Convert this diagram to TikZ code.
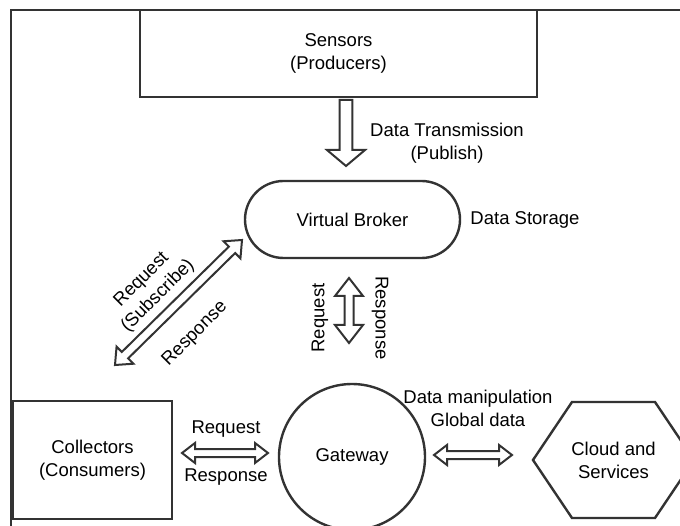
\documentclass[tikz,border=0pt]{standalone}
\usepackage{fontspec}
\setmainfont{Liberation Sans}
\usetikzlibrary{calc,shapes.misc}
\definecolor{edge}{HTML}{333333}
\newcommand{\HollowDouble}[5]{%
  \draw[arrowline] (#1) -- ($(#1)!#5!(#2)!#4!90:(#2)$) -- ($(#1)!#5!(#2)!#3!90:(#2)$)
    -- ($(#2)!#5!(#1)!#3!-90:(#1)$) -- ($(#2)!#5!(#1)!#4!-90:(#1)$) -- (#2)
    -- ($(#2)!#5!(#1)!#4!90:(#1)$) -- ($(#2)!#5!(#1)!#3!90:(#1)$)
    -- ($(#1)!#5!(#2)!#3!-90:(#2)$) -- ($(#1)!#5!(#2)!#4!-90:(#2)$) -- cycle;}
\newcommand{\HollowSingle}[5]{%
  \draw[arrowline] ($(#1)!#3!90:(#2)$) -- ($(#2)!#5!(#1)!#3!-90:(#1)$)
    -- ($(#2)!#5!(#1)!#4!-90:(#1)$) -- (#2) -- ($(#2)!#5!(#1)!#4!90:(#1)$)
    -- ($(#2)!#5!(#1)!#3!90:(#1)$) -- ($(#1)!#3!-90:(#2)$) -- cycle;}
\begin{document}
\begin{tikzpicture}[x=1pt,y=-1pt,
  every node/.style={font=\fontsize{18.5}{23}\selectfont, align=center, text=black},
  shapeline/.style={draw=edge, line width=2.4pt},
  arrowline/.style={draw=edge, line width=2pt, line join=miter},
  boxnode/.style={shapeline, rectangle, inner sep=0pt},
  lbl/.style={inner sep=1pt}]
\useasboundingbox (0,0) rectangle (680,526);
\clip (0,0) rectangle (680,526);
% outer frame
\draw[draw=edge, line width=2pt] (11,10) rectangle (720,560);
% nodes
\node[boxnode, minimum width=397pt, minimum height=87pt] (sensors) at (338.5,53.5) {Sensors\\(Producers)};
\node[shapeline, rounded rectangle, minimum width=215pt, minimum height=77pt, inner sep=0pt] (broker) at (352.5,219.5) {Virtual Broker};
\node[boxnode, minimum width=159pt, minimum height=118pt] (collectors) at (92.5,460) {Collectors\\(Consumers)};
\node[shapeline, circle, minimum size=146pt, inner sep=0pt] (gateway) at (352,457) {Gateway};
\node[inner sep=0pt] (cloud) at (613.5,460) {Cloud and\\Services};
\draw[shapeline, line join=miter] ($(cloud)+(-80.5,0)$) -- ($(cloud)+(-41.5,-58)$) -- ($(cloud)+(41.5,-58)$)
  -- ($(cloud)+(80.5,0)$) -- ($(cloud)+(41.5,58)$) -- ($(cloud)+(-41.5,58)$) -- cycle;
% connector end points
\coordinate (p1) at (346,100);
\coordinate (p2) at (346,166);
\coordinate (d1) at (242,240);
\coordinate (d2) at (115,365);
\coordinate (v1) at (349,278);
\coordinate (v2) at (349,343);
\coordinate (h1) at (182,453);
\coordinate (h2) at (268,453);
\coordinate (g1) at (434,455);
\coordinate (g2) at (512,455);
% hollow arrows
\HollowSingle{p1}{p2}{6.3pt}{19pt}{16pt}
\HollowDouble{d1}{d2}{4.5pt}{12pt}{14pt}
\HollowDouble{v1}{v2}{4.5pt}{14pt}{18pt}
\HollowDouble{h1}{h2}{4pt}{10pt}{13pt}
\HollowDouble{g1}{g2}{4pt}{10pt}{13pt}
% labels
\node[lbl] (ldt) at (447,143.5) {Data Transmission\\(Publish)};
\node[lbl] (lds) at (525,220) {Data Storage};
\node[lbl, rotate=45] (lrs) at (150,288) {Request\\(Subscribe)};
\node[lbl, rotate=45] (lrp) at (195,334) {Response};
\node[lbl, rotate=90] (lvq) at (320,318) {Request};
\node[lbl, rotate=-90] (lvp) at (380,318) {Response};
\node[lbl] (lhq) at (226,429) {Request};
\node[lbl] (lhp) at (226,477) {Response};
\node[lbl] (ldm) at (478,408) {Data manipulation\\Global data};
\end{tikzpicture}
\end{document}
